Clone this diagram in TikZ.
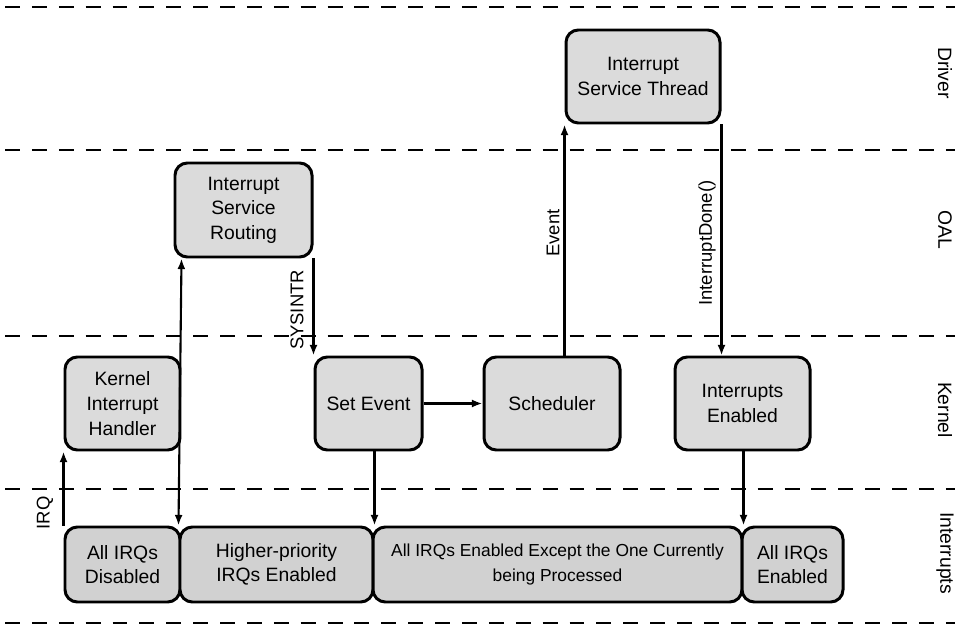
\documentclass[tikz,border=0pt]{standalone}
\usepackage{fontspec}
\setmainfont{Liberation Sans}
\usetikzlibrary{arrows.meta,calc}
\begin{document}
\begin{tikzpicture}[x=0.02cm,y=-0.02cm,
 box/.style={draw=black, line width=1.7pt, rounded corners=7pt, fill=gray!28, inner sep=0pt, align=center, font=\fontsize{11}{14}\selectfont},
 lowbox/.style={box, fill=gray!36},
 sz/.style 2 args={minimum width=#1*0.02cm, minimum height=#2*0.02cm},
 conn/.style={line width=1.2pt, -{Latex[length=6pt,width=4.5pt]}},
 bconn/.style={line width=1.2pt, {Latex[length=6pt,width=4.5pt]}-{Latex[length=6pt,width=4.5pt]}},
 sep/.style={line width=1.3pt, dash pattern=on 8.5pt off 6.8pt},
 elab/.style={font=\fontsize{10.5}{12}\selectfont, rotate=90, inner sep=0pt},
 side/.style={font=\fontsize{11}{13}\selectfont, rotate=-90, inner sep=0pt}]
\useasboundingbox (0,0) rectangle (955,624);
\fill[white] (0,0) rectangle (955,624);
% lane separators
\foreach \yy/\nm in {7/s0,150/s1,336/s2,489/s3,623/s4} {
  \coordinate (\nm a) at (5,\yy);
  \coordinate (\nm b) at (955,\yy);
  \draw[sep] (\nm a) -- (\nm b);
}
% lane labels
\node[side] (ldrv) at (945,73) {Driver};
\node[side] (loal) at (945,230) {OAL};
\node[side] (lker) at (945,410) {Kernel};
\node[side] (lint) at (945,553) {Interrupts};
% boxes
\node[box, sz={154}{93}] (ist) at (643,76.5) {Interrupt\\Service Thread};
\node[box, sz={137}{94}] (isr) at (243.5,210) {Interrupt\\Service\\Routing};
\node[box, sz={115}{93}] (kih) at (122.5,403.5) {Kernel\\Interrupt\\Handler};
\node[box, sz={107}{93}] (se) at (368.5,403.5) {Set Event};
\node[box, sz={136}{93}] (sch) at (552,403.5) {Scheduler};
\node[box, sz={135}{93}] (ie) at (742.5,403.5) {Interrupts\\Enabled};
\node[lowbox, sz={115}{75}] (dis) at (122.5,564.5) {All IRQs\\Disabled};
\node[lowbox, sz={193}{75}] (hp) at (276.5,564.5) {Higher-priority\\IRQs Enabled};
\node[lowbox, sz={369}{75}, font=\fontsize{9.9}{14}\selectfont] (ex) at (557.5,564.5) {All IRQs Enabled Except the One Currently\\being Processed};
\node[lowbox, sz={101}{75}] (en) at (792.5,564.5) {All IRQs\\Enabled};
% connectors
\draw[conn] (dis.north west) -- (kih.south west);
\draw[bconn] (isr.south -| kih.east) -- (hp.north west);
\draw[conn] (isr.south east) -- (isr.south east |- se.north);
\draw[conn] (se.east) -- (sch.west);
\draw[conn] (hp.north east |- se.south) -- (hp.north east);
\draw[conn] (ist.south west |- sch.north) -- (ist.south west);
\draw[conn] (ist.south east) -- (ist.south east |- ie.north);
\draw[conn] (ex.north east |- ie.south) -- (ex.north east);
% connector labels
\node[elab] (lirq) at (45,513) {IRQ};
\node[elab] (lsys) at (297,310) {SYSINTR};
\node[elab] (levt) at (553,233) {Event};
\node[elab] (ldone) at (707,243) {InterruptDone()};
\end{tikzpicture}
\end{document}
